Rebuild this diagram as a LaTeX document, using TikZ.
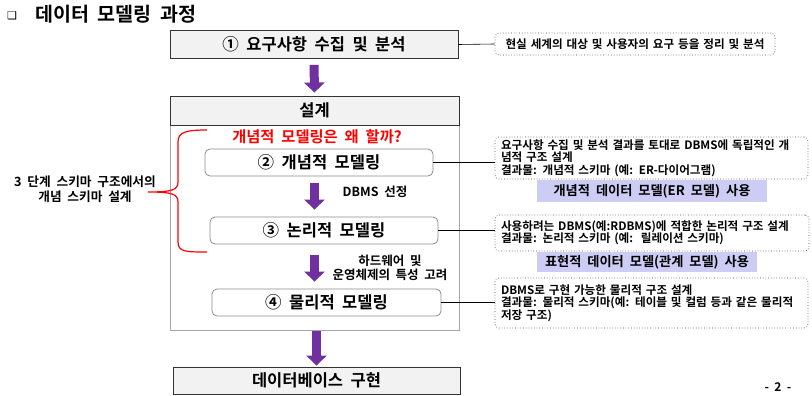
\documentclass[tikz,border=0pt]{standalone}
\usepackage{fontspec}
\setmainfont{Noto Sans CJK KR}[WordSpace=2,BoldFont={Noto Sans CJK KR Bold}]
\newfontfamily\symfont{DejaVu Sans}
\usetikzlibrary{arrows.meta}
\definecolor{boxgray}{HTML}{F2F2F2}
\definecolor{arrowpurple}{HTML}{7030A0}
\definecolor{hlblue}{HTML}{CCCCF5}

\begin{document}
\begin{tikzpicture}[x=1pt,y=-1pt,
  mainbox/.style={draw=black!80,fill=boxgray,line width=0.9pt,minimum width=288pt,minimum height=28pt,inner sep=0pt,font=\fontsize{16.5}{19}\selectfont\bfseries},
  stepbox/.style={draw=black!45,fill=white,rounded corners=5pt,line width=0.8pt,minimum width=228pt,minimum height=27pt,inner sep=0pt,font=\fontsize{16.5}{19}\selectfont\bfseries},
  notebox/.style={draw=black!70,dotted,rounded corners=4pt,line width=0.7pt,inner xsep=6pt,inner ysep=0pt,align=left,font=\fontsize{11.6}{12.5}\selectfont\bfseries},
  hlbox/.style={fill=hlblue,inner sep=0pt,font=\fontsize{13.2}{15}\selectfont\bfseries},
  bigarrow/.style={arrowpurple,line width=9pt,-{Triangle[width=20pt,length=10pt]}},
  link/.style={draw,line width=0.6pt},
  sidetext/.style={align=center,inner sep=0pt,font=\fontsize{12.5}{14}\selectfont\bfseries}]
\useasboundingbox (0,0) rectangle (812,396);

\node (bullet) at (12,16) {\symfont\fontsize{11}{12}\selectfont ❑};
\node[anchor=west,inner sep=0pt,font=\fontsize{19.5}{21}\selectfont\bfseries] (title) at (35,14) {데이터 모델링 과정};

\node[mainbox] (req) at (314,44.5) {① 요구사항 수집 및 분석};
\node[draw=black!35,line width=0.9pt,minimum width=289pt,minimum height=205pt] (body) at (314.5,227.5) {};
\node[mainbox,minimum width=289pt,minimum height=29pt] (hdr) at (314.5,110.5) {설계};
\node[red,inner sep=0pt,font=\fontsize{15.3}{17}\selectfont\bfseries] (why) at (317,137) {개념적 모델링은 왜 할까?};
\node[stepbox] (concept) at (319,162.5) {② 개념적 모델링};
\node[stepbox] (logical) at (324,230.5) {③ 논리적 모델링};
\node[stepbox,minimum width=229pt] (physical) at (326.5,302.5) {④ 물리적 모델링};
\node[mainbox,minimum width=287pt,minimum height=27pt] (impl) at (316.5,380.5) {데이터베이스 구현};

\node[sidetext] (sel) at (375,192) {DBMS 선정};
\node[sidetext] (hw) at (390,268) {하드웨어 및\\운영체제의 특성 고려};
\node[sidetext,font=\fontsize{12.7}{15}\selectfont\bfseries] (three) at (85,189.5) {3 단계 스키마 구조에서의\\개념 스키마 설계};

\node[notebox,align=center,text width=268pt,minimum height=22pt] (note1) at (635,44) {현실 세계의 대상 및 사용자의 요구 등을 정리 및 분석};
\node[notebox,text width=301pt,minimum height=42pt] (note2) at (651.5,158) {요구사항 수집 및 분석 결과를 토대로 DBMS에 독립적인 개\\념적 구조 설계\\결과물: 개념적 스키마 (예: ER-다이어그램)};
\node[hlbox,minimum width=230pt,minimum height=22pt] (hl1) at (652,191) {개념적 데이터 모델(ER 모델) 사용};
\node[notebox,text width=302pt,minimum height=36pt] (note3) at (652,233) {사용하려는 DBMS(예:RDBMS)에 적합한 논리적 구조 설계\\결과물: 논리적 스키마 (예:\ \ 릴레이션 스키마)};
\node[hlbox,minimum width=220pt,minimum height=20pt] (hl2) at (647,262) {표현적 데이터 모델(관계 모델) 사용};
\node[notebox,text width=301pt,minimum height=50pt] (note4) at (651.5,303) {DBMS로 구현 가능한 물리적 구조 설계\\결과물: 물리적 스키마(예: 테이블 및 컬럼 등과 같은 물리적\\저장 구조)};

\node[inner sep=0pt,font=\fontsize{12}{14}\selectfont\bfseries] (page) at (778,387) {- 2 -};

\draw[bigarrow,shorten <=6pt,shorten >=3pt] (req.south) -- (hdr.north);
\draw[bigarrow,shorten <=7pt,shorten >=7pt] (concept.south -| hdr.south) -- (logical.north -| hdr.south);
\draw[bigarrow,shorten <=11pt,shorten >=7pt] (logical.south -| hdr.south) -- (physical.north -| hdr.south);
\draw[bigarrow,shorten <=1pt,shorten >=1pt] (body.south -| impl.north) -- (impl.north);

\draw[link] (req.east) -- (note1.west);
\draw[link] (concept.east) -- (concept.east -| note2.west);
\draw[link] (logical.east) -- (logical.east -| note3.west);
\draw[link] (physical.east) -- (physical.east -| note4.west);

\draw[red,line width=1.2pt] (207,130) .. controls (186,130) and (178,132) .. (178,142) -- (178,182)
  .. controls (178,190) and (172,192) .. (148,192) .. controls (172,192) and (178,194) .. (178,202)
  -- (178,242) .. controls (178,252) and (186,252) .. (207,252);
\end{tikzpicture}
\end{document}
